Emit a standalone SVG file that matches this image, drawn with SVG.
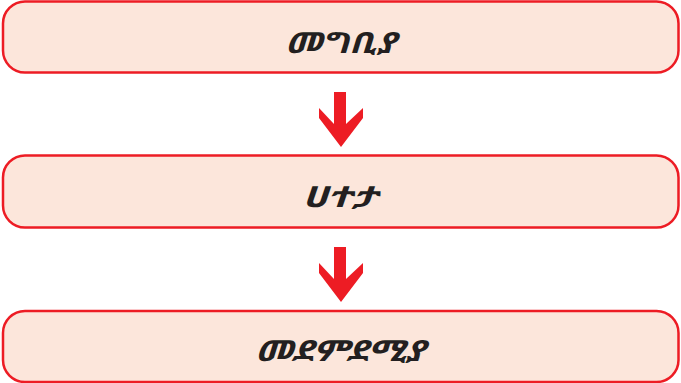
<svg xmlns="http://www.w3.org/2000/svg" width="681" height="383" viewBox="0 0 681 383">
<style>
.box{fill:#FCE6DB;stroke:#ED1C24;stroke-width:2.5}
.lbl{font-family:"Noto Sans Ethiopic","Abyssinica SIL","DejaVu Sans","Noto Sans",sans-serif;font-size:29px;font-weight:bold;font-style:italic;fill:#231F20;text-anchor:middle}
.arr{fill:#ED1C24}
</style>
<rect width="681" height="383" fill="#ffffff"/>
<g id="node1">
<rect class="box" x="3" y="1.5" width="675.5" height="71" rx="22"/>
<text class="lbl" x="340.5" y="53" textLength="111" lengthAdjust="spacingAndGlyphs">መግቢያ</text>
</g>
<g id="node2">
<rect class="box" x="3" y="155.5" width="675.5" height="72" rx="22"/>
<text class="lbl" x="339.5" y="207" textLength="75" lengthAdjust="spacingAndGlyphs">ሀተታ</text>
</g>
<g id="node3">
<rect class="box" x="3" y="311" width="675.5" height="71" rx="22"/>
<text class="lbl" x="340" y="361" textLength="170" lengthAdjust="spacingAndGlyphs">መደምደሚያ</text>
</g>
<g id="connectors">
<path class="arr" d="M334,92 H346 V124 L363,108 V118 L341,147 L319,118 V108 L334,124 Z"/>
<path class="arr" d="M334,247 H346 V279 L363,263 V273 L341,302 L319,273 V263 L334,279 Z"/>
</g>
</svg>
